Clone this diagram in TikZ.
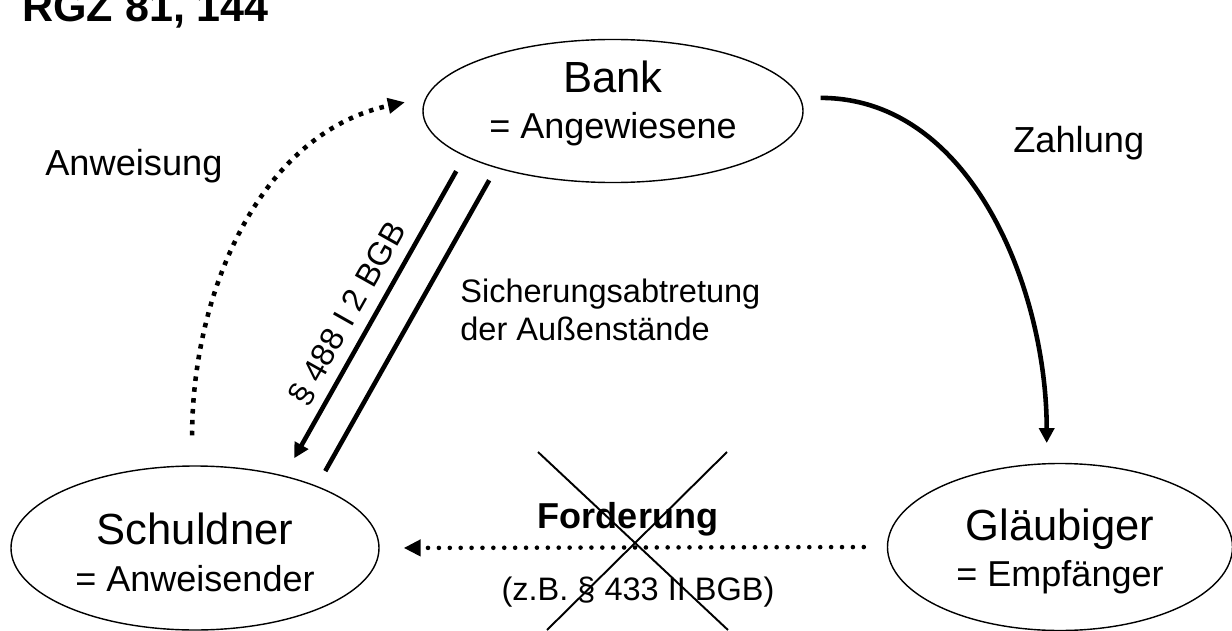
\documentclass[tikz,border=0pt]{standalone}
\usepackage{fontspec}
\setmainfont{Liberation Sans}
\usepackage{tikz}
\usetikzlibrary{arrows.meta, positioning, shapes, shapes.geometric, calc}
\tikzset{
  party/.style = {
    draw,
    ellipse,
    line width=0.8pt,
    inner sep=0pt,
    align=center,
    font=\fontsize{20.5}{26.5}\selectfont,
  },
  caption/.style = {
    inner sep=0pt,
    font=\fontsize{20.6}{24}\selectfont,
  },
  small/.style = {
    inner sep=0pt,
    font=\fontsize{18.5}{21.5}\selectfont,
  },
  pays/.style = {
    -{Triangle[length=0.3cm, width=0.3cm]},
    line width=2.6pt,
  },
  secures/.style = {
    line width=2.6pt,
  },
  orders/.style = {
    -{Triangle[length=0.34cm, width=0.3cm]},
    line width=2.6pt,
    dash pattern=on 2.6pt off 3.6pt,
  },
  claims/.style = {
    -{Triangle[length=0.34cm, width=0.32cm]},
    line width=2.6pt,
    line cap=round,
    dash pattern=on 0pt off 6.2pt,
  },
}
\newcommand{\partyname}[1]{{\fontsize{24.8}{26.5}\selectfont #1}}

\begin{document}
\begin{tikzpicture}
\useasboundingbox (0,0) rectangle (24.64,12.6);

\node(Bank)[party, minimum width=7.6cm, minimum height=2.84cm] at (12.26,10.38)
  {\partyname{Bank}\\= Angewiesene\rule[-0.46cm]{0pt}{0.46cm}};
\node(Schuldner)[party, minimum width=7.36cm, minimum height=3.28cm] at (3.9,1.64)
  {\rule{0pt}{0.815cm}\partyname{Schuldner}\\= Anweisender};
\node(Glaeubiger)[party, minimum width=6.9cm, minimum height=3.34cm] at (21.2,1.66)
  {\rule{0pt}{0.81cm}\partyname{Gläubiger}\\= Empfänger};

\node(Title)[caption, anchor=base west, font=\fontsize{24.5}{28}\selectfont\bfseries] at (0.44,12.18) {RGZ 81, 144};
\node(Anweisung)[caption, anchor=base west] at (0.9,9.1) {Anweisung};
\node(Zahlung)[caption, anchor=base west] at (20.26,9.56) {Zahlung};
\node(Sicherung)[small, anchor=north west, align=left] at (9.2,7.03) {Sicherungsabtretung\\der Außenstände};
\node(Forderung)[caption, anchor=base, font=\fontsize{20.5}{24}\selectfont\bfseries] at (12.56,2.04) {Forderung};
\node(Norm)[small, anchor=base] at (12.76,0.6) {(z.B. § 433 II BGB)};

\draw[orders, shorten <=0.6cm, shorten >=0.42cm] (Schuldner.92) to[out=90, in=192] (Bank.176);
\draw[pays, shorten <=0.4cm, shorten >=0.4cm] (Bank.4) to[out=0, in=90] (Glaeubiger.99);
\draw[pays, shorten <=0.34cm, shorten >=0.4cm] (Bank.197)
  -- node(Paragraph)[small, sloped, anchor=south, inner sep=0.18cm, pos=0.53] {§ 488 I 2 BGB} (Schuldner.39);
\draw[secures, shorten <=0.28cm, shorten >=0.34cm] (Bank.206) -- (Schuldner.27);
\draw[claims, shorten <=0.46cm, shorten >=0.48cm] (Glaeubiger.west) -- (Schuldner.east);

\draw[line width=1.1pt] (10.76,3.56) -- (14.56,0);
\draw[line width=1.1pt] (14.54,3.56) -- (10.94,0);

\end{tikzpicture}
\end{document}
